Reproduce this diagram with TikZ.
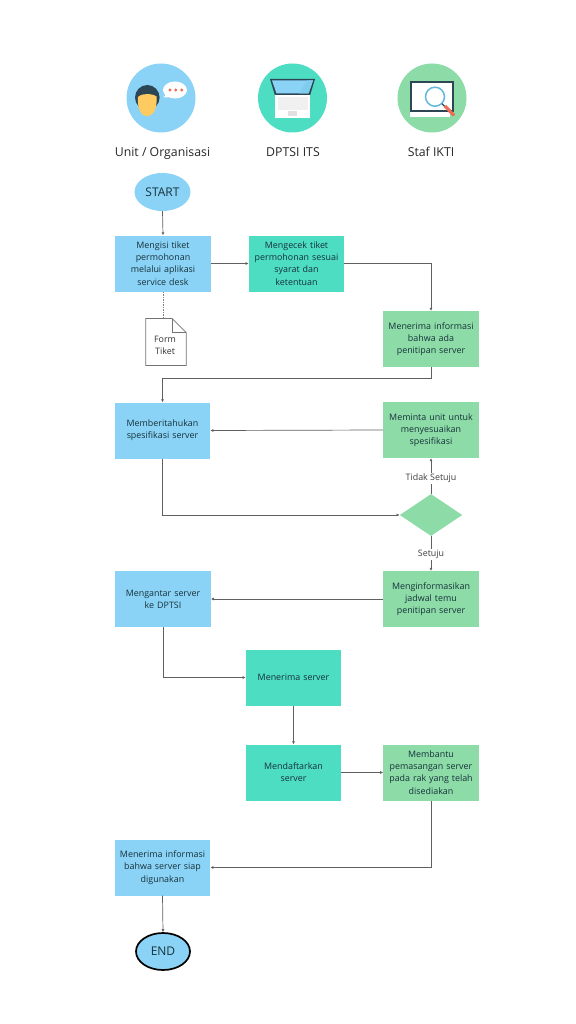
\documentclass[tikz,border=0pt]{standalone}
\usepackage{fontspec}
\setmainfont{Open Sans}
\usetikzlibrary{shapes.geometric,arrows.meta}
\definecolor{blueb}{HTML}{8AD3F6}
\definecolor{tealb}{HTML}{4DDDC3}
\definecolor{greenb}{HTML}{8DDCA8}
\definecolor{inkc}{HTML}{17323A}
\definecolor{linec}{HTML}{606060}
\definecolor{darkc}{HTML}{2D4654}
\definecolor{facec}{HTML}{FDCB60}
\definecolor{redc}{HTML}{EE6C55}
\definecolor{ringc}{HTML}{62B8DC}
\tikzset{
  x=1pt,y=-1pt,
  flowbox/.style={rectangle,minimum width=#1,minimum height=56pt,inner sep=1pt,text width=#1-2pt,align=center,font=\fontsize{8.9}{12.2}\selectfont,text=inkc},
  flowbox/.default=95.5pt,
  bluebox/.style={flowbox,fill=blueb},
  tealbox/.style={flowbox,fill=tealb},
  greenbox/.style={flowbox,fill=greenb},
  conn/.style={draw=linec,line width=0.7pt,-{Latex[length=3pt,width=3pt]}},
  lbl/.style={font=\fontsize{8.9}{12}\selectfont,text=black!75,fill=white,inner sep=1pt},
  head/.style={anchor=base,font=\fontsize{12.3}{15}\selectfont,text=black!85},
}
\begin{document}
\begin{tikzpicture}
\useasboundingbox (0,0) rectangle (575,1024);
% header icons
\node[circle,fill=blueb,minimum size=69pt,inner sep=0pt] (i1) at (161,98) {};
\node[circle,fill=tealb,minimum size=69pt,inner sep=0pt] (i2) at (292.5,98) {};
\node[circle,fill=greenb,minimum size=69pt,inner sep=0pt] (i3) at (432,98) {};
% person
\fill[darkc] (147.3,97.5) ellipse (12.3 and 12.5);
\fill[facec] (138,97) .. controls (141,93.5) and (152,93) .. (156.5,96.5) .. controls (157.5,108) and (153.5,116.3) .. (147,116.3) .. controls (141,116.3) and (137,108) .. (138,97) -- cycle;
\fill[white] (175,90) ellipse (12 and 8.5);
\fill[white] (167,93) -- (163.5,97.5) -- (172,97) -- cycle;
\foreach \xx in {170,175.7,181.7}{\fill[redc] (\xx,90) circle (1.7);}
% laptop
\fill[darkc] (270,79) -- (315,79) -- (310,95.5) -- (275,95.5) -- cycle;
\fill[blueb] (272,80.5) -- (313,80.5) -- (308.5,93.5) -- (276.5,93.5) -- cycle;
\fill[blueb!75!ringc] (307,80.5) -- (313,80.5) -- (308.5,93.5) -- (299,93.5) -- cycle;
\fill[white] (275,95.5) rectangle (310,118.5);
\fill[black!6] (277.5,97) rectangle (307.5,110);
\fill[black!12] (288,111.5) rectangle (296.5,116);
% staf laptop
\fill[white] (410,112) rectangle (450,116.7);
\fill[darkc] (410,81) rectangle (454.3,112.3);
\fill[white] (412.3,83.3) rectangle (452,110);
\draw[line width=1.5pt,draw=ringc] (435,96.7) circle (9.5);
\draw[line width=1.2pt,draw=darkc] (442,103.7) -- (445,106.7);
\draw[line width=3.2pt,draw=redc] (445,106) -- (454,115.5);
% headers
\node[head] (h1) at (162.5,156.5) {Unit / Organisasi};
\node[head] (h2) at (293,156.5) {DPTSI ITS};
\node[head] (h3) at (431,156.5) {Staf IKTI};
% flow
\node[ellipse,fill=blueb,minimum width=56pt,minimum height=38pt,inner sep=0pt,font=\fontsize{12}{15}\selectfont,text=inkc] (start) at (162.5,192) {START};
\node[bluebox] (b1) at (163,263.5) {Mengisi tiket\\permohonan\\melalui aplikasi\\service desk};
\node[tealbox] (b2) at (296.5,263.5) {Mengecek tiket\\permohonan sesuai\\syarat dan\\ketentuan};
\node[greenbox] (b3) at (431,339) {Menerima informasi\\bahwa ada\\penitipan server};
\node[bluebox] (b4) at (162.5,430.5) {Memberitahukan\\spesifikasi server};
\node[greenbox] (b5) at (431,430) {Meminta unit untuk\\menyesuaikan\\spesifikasi};
\node[diamond,fill=greenb,minimum width=62.5pt,minimum height=42pt,inner sep=0pt,aspect=1.5] (d) at (431,515) {};
\node[greenbox] (b6) at (431,599) {Menginformasikan\\jadwal temu\\penitipan server};
\node[bluebox] (b7) at (163,599) {Mengantar server\\ke DPTSI};
\node[tealbox] (b8) at (293.5,677.5) {Menerima server};
\node[tealbox] (b9) at (293.5,772.5) {Mendaftarkan\\server};
\node[greenbox] (b10) at (431,772.5) {Membantu\\pemasangan server\\pada rak yang telah\\disediakan};
\node[bluebox] (b11) at (162.5,867.5) {Menerima informasi\\bahwa server siap\\digunakan};
\node[ellipse,draw=black,line width=1.7pt,fill=blueb,minimum width=54pt,minimum height=37pt,inner sep=0pt,font=\fontsize{12}{15}\selectfont,text=inkc] (end) at (163,951.5) {END};
% document
\node[inner sep=0pt,minimum width=40pt,minimum height=46.5pt] (doc) at (166,342) {};
\node[inner sep=0pt,align=center,font=\fontsize{8.9}{12.2}\selectfont,text=black!80] (doctext) at (165,345) {Form\\Tiket};
\draw[draw=black!55,line width=0.7pt] (doc.north west) -- ([xshift=-14pt]doc.north east) -- ([yshift=-14pt]doc.north east) -- (doc.south east) -- (doc.south west) -- cycle;
\draw[draw=black!55,line width=0.7pt] ([xshift=-14pt]doc.north east) -- ([xshift=-14pt,yshift=-14pt]doc.north east) -- ([yshift=-14pt]doc.north east);
% connectors
\draw[conn] (start.south) -- (b1.north);
\draw[conn] (b1.east) -- (b2.west);
\draw[draw=black!50,line width=0.9pt,dash pattern=on 1.5pt off 1pt] (b1.south) -- (b1.south |- doc.north);
\draw[conn] (b2.east) -| (b3.north);
\draw[conn] (b3.south) -- ++(0,11) -| (b4.north);
\draw[conn] (b5.west) -- (b4.east);
\draw[conn] (b4.south) |- (d.west);
\draw[conn] (d.north) -- node[lbl,pos=0.44] (l1) {Tidak Setuju} (b5.south);
\draw[conn] (d.south) -- node[lbl,pos=0.52] (l2) {Setuju} (b6.north);
\draw[conn] (b6.west) -- (b7.east);
\draw[conn] (b7.south) |- (b8.west);
\draw[conn] (b8.south) -- (b9.north);
\draw[conn] (b9.east) -- (b10.west);
\draw[conn] (b10.south) |- (b11.east);
\draw[conn] (b11.south) -- (end.north);
\end{tikzpicture}
\end{document}
